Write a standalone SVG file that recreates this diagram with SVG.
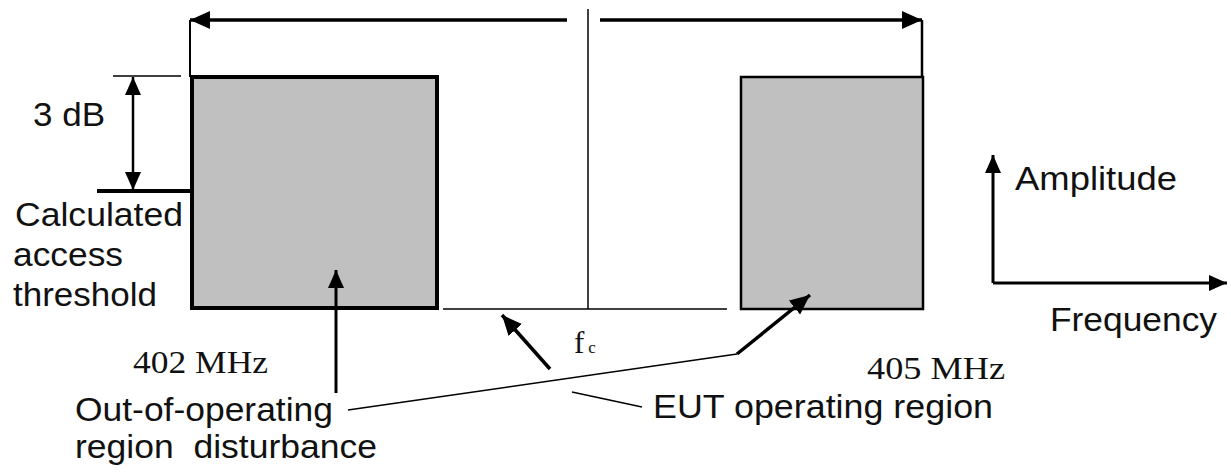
<svg xmlns="http://www.w3.org/2000/svg" width="1231" height="473" viewBox="0 0 1231 473">
<style>
.t{font-family:"Liberation Sans",Arial,sans-serif;font-size:34px;fill:#111}
.s{font-family:"Liberation Serif","Times New Roman",serif;font-size:31px;fill:#111}
.ln{stroke:#000;fill:none}
.box{fill:#c0c0c0;stroke:#000}
</style>
<defs>
<marker id="ah" markerUnits="userSpaceOnUse" markerWidth="22" markerHeight="18" refX="20" refY="9" orient="auto">
<path d="M0,0 L20,9 L0,18 Z" fill="#000"/>
</marker>
<marker id="ahs" markerUnits="userSpaceOnUse" markerWidth="20" markerHeight="16" refX="18" refY="8" orient="auto">
<path d="M0,0 L18,8 L0,16 Z" fill="#000"/>
</marker>
</defs>
<g id="left-box"><rect class="box" x="192" y="77" width="245" height="231" stroke-width="4"/></g>
<g id="right-box"><rect class="box" x="741" y="77" width="182" height="232" stroke-width="2.5"/></g>
<g id="connectors">
<line class="ln" x1="567" y1="20" x2="190" y2="20" stroke-width="3.5" marker-end="url(#ah)"/>
<line class="ln" x1="600" y1="20" x2="922" y2="20" stroke-width="3.5" marker-end="url(#ah)"/>
<line class="ln" x1="190" y1="20" x2="190" y2="77" stroke-width="2"/>
<line class="ln" x1="922" y1="20" x2="922" y2="77" stroke-width="2.5"/>
<line class="ln" x1="588" y1="9" x2="588" y2="309" stroke-width="1.5"/>
<line class="ln" x1="443" y1="309" x2="727" y2="309" stroke-width="1.5"/>
<line class="ln" x1="113" y1="76" x2="181" y2="76" stroke-width="1.5"/>
<line class="ln" x1="97" y1="191" x2="192" y2="191" stroke-width="4"/>
<line class="ln" x1="133" y1="133" x2="133" y2="77" stroke-width="2.5" marker-end="url(#ahs)"/>
<line class="ln" x1="133" y1="133" x2="133" y2="190" stroke-width="2.5" marker-end="url(#ahs)"/>
<line class="ln" x1="336" y1="393" x2="336" y2="270" stroke-width="3" marker-end="url(#ahs)"/>
<line class="ln" x1="550" y1="369" x2="502" y2="315" stroke-width="3.5" marker-end="url(#ah)"/>
<polyline class="ln" points="348,410 737,354" stroke-width="1.5"/>
<line class="ln" x1="737" y1="354" x2="810" y2="295" stroke-width="3.5" marker-end="url(#ah)"/>
<line class="ln" x1="572" y1="392" x2="642" y2="407" stroke-width="1.5"/>
<line class="ln" x1="993" y1="283" x2="993" y2="155" stroke-width="3" marker-end="url(#ahs)"/>
<line class="ln" x1="993" y1="283" x2="1227" y2="283" stroke-width="3" marker-end="url(#ahs)"/>
</g>
<g id="labels">
<text class="t" x="33" y="126" textLength="72" lengthAdjust="spacingAndGlyphs">3 dB</text>
<text class="t" x="15" y="226" textLength="168" lengthAdjust="spacingAndGlyphs">Calculated</text>
<text class="t" x="13" y="266" textLength="110" lengthAdjust="spacingAndGlyphs">access</text>
<text class="t" x="13" y="306" textLength="144" lengthAdjust="spacingAndGlyphs">threshold</text>
<text class="s" x="133" y="373" textLength="135" lengthAdjust="spacingAndGlyphs">402 MHz</text>
<text class="s" x="867" y="379" textLength="138" lengthAdjust="spacingAndGlyphs">405 MHz</text>
<text class="s" x="574" y="353" font-size="33">f<tspan font-size="17" dx="4">c</tspan></text>
<text class="t" x="75" y="421" textLength="258" lengthAdjust="spacingAndGlyphs">Out-of-operating</text>
<text class="t" x="75" y="458" textLength="302" lengthAdjust="spacingAndGlyphs" xml:space="preserve">region  disturbance</text>
<text class="t" x="653" y="418" textLength="340" lengthAdjust="spacingAndGlyphs">EUT operating region</text>
<text class="t" x="1015" y="190" textLength="162" lengthAdjust="spacingAndGlyphs">Amplitude</text>
<text class="t" x="1050" y="331" textLength="167" lengthAdjust="spacingAndGlyphs">Frequency</text>
</g>
</svg>
